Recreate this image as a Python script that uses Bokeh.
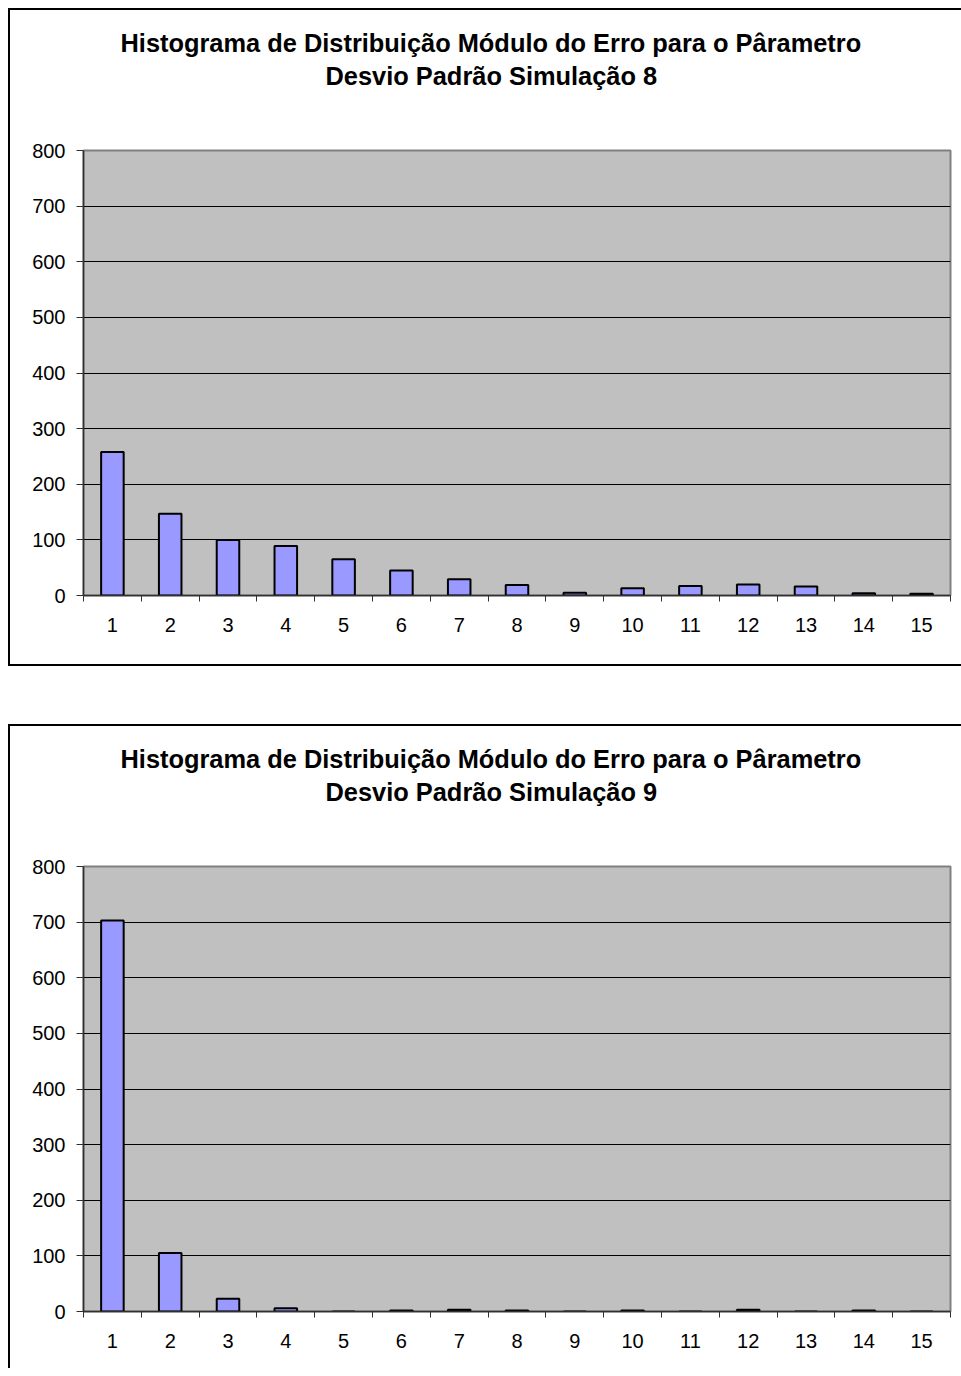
from bokeh.plotting import figure
from bokeh.models import ColumnDataSource, FixedTicker, Range1d, Title
from bokeh.layouts import column
from bokeh.embed import file_html
from bokeh.resources import INLINE

categories = list(range(1, 16))
tick_labels = [str(c) for c in categories]
sim8_counts = [258, 147, 100, 89, 65, 45, 29, 19, 5, 13, 17, 20, 16, 4, 3]
sim9_counts = [703, 105, 23, 6, 0, 2, 3, 2, 0, 2, 0, 3, 0, 2, 0]
y_ticks = [0, 100, 200, 300, 400, 500, 600, 700, 800]

title_line1 = "Histograma de Distribuição Módulo do Erro para o Pârametro"
title8_line2 = "Desvio Padrão Simulação 8"
title9_line2 = "Desvio Padrão Simulação 9"

FONT = "Liberation Sans"


def make_chart(counts, line2, height, bottom_border, border_sides):
    p = figure(width=953, height=height, output_backend="svg", toolbar_location=None,
               x_range=Range1d(0.5, 15.5), y_range=Range1d(0, 800),
               min_border_left=73, min_border_right=13, min_border_top=140,
               min_border_bottom=bottom_border)
    p.title = None
    spacer = Title(text=" ", align="left", standoff=31.4,
                   text_font=FONT, text_font_size="25.4px")
    t2 = Title(text=line2, align="left", offset=242, standoff=0,
               text_font=FONT, text_font_size="25.4px", text_font_style="bold",
               text_color="black")
    t1 = Title(text=title_line1, align="left", offset=37, standoff=5.2,
               text_font=FONT, text_font_size="25.4px", text_font_style="bold",
               text_color="black")
    p.add_layout(spacer, "above")
    p.add_layout(t2, "above")
    p.add_layout(t1, "above")

    p.background_fill_color = "#C0C0C0"
    p.border_fill_color = "white"
    p.outline_line_color = "#808080"
    p.outline_line_width = 2

    src = ColumnDataSource(dict(x=categories, top=counts))
    p.vbar(x="x", top="top", width=0.39, bottom=0, source=src,
           fill_color="#9999FF", line_color="black", line_width=2)

    p.xgrid.visible = False
    p.ygrid.ticker = FixedTicker(ticks=y_ticks)
    p.ygrid.grid_line_color = "black"
    p.ygrid.grid_line_width = 1

    xa = p.xaxis[0]
    xa.ticker = FixedTicker(ticks=categories,
                            minor_ticks=[c + 0.5 for c in [0] + categories])
    xa.major_label_overrides = {c: l for c, l in zip(categories, tick_labels)}
    xa.major_tick_out = 0
    xa.major_tick_in = 0
    xa.minor_tick_out = 6
    xa.minor_tick_in = 0
    xa.minor_tick_line_color = "#303030"
    xa.axis_line_color = "#303030"
    xa.axis_line_width = 1.5
    xa.major_label_standoff = 16
    xa.major_label_text_font = FONT
    xa.major_label_text_font_size = "20px"
    xa.major_label_text_color = "black"

    ya = p.yaxis[0]
    ya.ticker = FixedTicker(ticks=y_ticks)
    ya.major_tick_out = 7
    ya.major_tick_in = 0
    ya.minor_tick_out = 0
    ya.minor_tick_in = 0
    ya.major_tick_line_color = "#303030"
    ya.axis_line_color = "#303030"
    ya.axis_line_width = 1.5
    ya.major_label_standoff = 11
    ya.major_label_text_font = FONT
    ya.major_label_text_font_size = "20px"
    ya.major_label_text_color = "black"

    p.styles = {**{f"border-{s}": "2px solid black" for s in border_sides},
                "box-sizing": "border-box"}
    return p


p1 = make_chart(sim8_counts, title8_line2, 658, 73, ["left", "top", "bottom"])
p2 = make_chart(sim9_counts, title9_line2, 644, 59, ["left", "top"])

layout = column(p1, p2, spacing=58, margin=(8, 0, 0, 8))

open("out.html", "w").write(file_html(layout, INLINE))
